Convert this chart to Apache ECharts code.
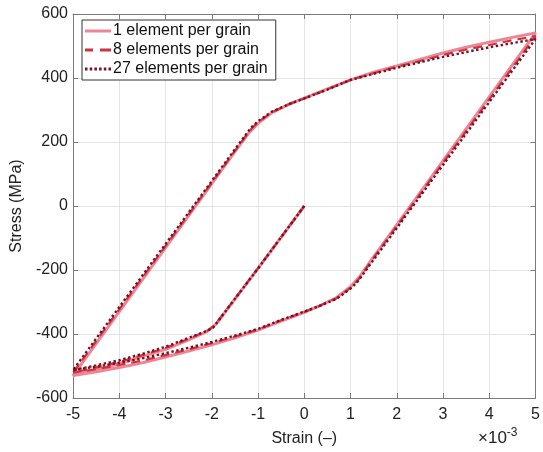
<!DOCTYPE html>
<html>
<head>
<meta charset="utf-8">
<script src="https://cdn.jsdelivr.net/npm/echarts@6/dist/echarts.min.js"></script>
<style>
  html, body { margin: 0; padding: 0; background: #fff; }
  #myChart { width: 543px; height: 452px; }
</style>
</head>
<body>
<div id="myChart"></div>
<script>
// strain in units of 1e-3, stress in MPa
const seriesNames = ['1 element per grain', '8 elements per grain', '27 elements per grain']
const xTicks = [-5, -4, -3, -2, -1, 0, 1, 2, 3, 4, 5]
const yTicks = [-600, -400, -200, 0, 200, 400, 600]

// 1 element per grain: initial compression, reverse loading, then back
const oneElement = [
    [0, 0], [-1, -195], [-1.9, -368], [-2.1, -392], [-2.5, -418], [-3, -448], [-3.5, -470], [-4, -492], [-4.5, -512], [-5, -530],
    [-4, -330], [-3, -130], [-2, 70], [-1.5, 170], [-1.2, 228], [-1, 258], [-0.7, 292], [-0.3, 320], [0, 337], [0.5, 366], [1, 394],
    [1.5, 418], [2, 438], [2.5, 458], [3, 478], [3.5, 496], [4, 512], [4.5, 527], [5, 541],
    [4, 341], [3, 141], [2, -59], [1.5, -159], [1.2, -220], [1, -252], [0.7, -286], [0.3, -314], [0, -332], [-0.5, -360], [-1, -388],
    [-1.5, -412], [-2, -434], [-2.5, -453], [-3, -472], [-3.5, -490], [-4, -505], [-4.5, -518], [-5, -530]
]

const eightElements = [
    [0, 0], [-1, -195], [-1.95, -375], [-2.1, -390], [-2.5, -415], [-3, -444], [-3.5, -466], [-4, -487], [-4.5, -505], [-5, -521],
    [-4, -323], [-3, -125], [-2, 73], [-1.5, 172], [-1.18, 236], [-1, 262], [-0.7, 293], [-0.3, 320], [0, 336], [0.5, 364], [1, 394],
    [1.5, 415], [2, 435], [2.5, 453], [3, 472], [3.5, 489], [4, 503], [4.5, 518], [5, 531],
    [4, 333], [3, 135], [2, -63], [1.5, -162], [1.18, -228], [1, -256], [0.7, -288], [0.3, -314], [0, -331], [-0.5, -357], [-1, -386],
    [-1.5, -408], [-2, -429], [-2.5, -448], [-3, -466], [-3.5, -483], [-4, -497], [-4.5, -510], [-5, -521]
]

const twentySevenElements = [
    [0, 0], [-1, -195], [-1.97, -380], [-2.1, -390], [-2.5, -412], [-3, -440], [-3.5, -462], [-4, -482], [-4.5, -498], [-5, -513],
    [-4, -316], [-3, -119], [-2, 78], [-1.5, 177], [-1.15, 245], [-1, 265], [-0.7, 295], [-0.3, 320], [0, 336], [0.5, 364], [1, 394],
    [1.5, 413], [2, 432], [2.5, 449], [3, 466], [3.5, 481], [4, 496], [4.5, 509], [5, 522],
    [4, 325], [3, 128], [2, -69], [1.5, -168], [1.15, -237], [1, -258], [0.7, -290], [0.3, -314], [0, -330], [-0.5, -356], [-1, -384],
    [-1.5, -405], [-2, -425], [-2.5, -443], [-3, -460], [-3.5, -476], [-4, -490], [-4.5, -502], [-5, -513]
]

const chart = echarts.init(document.getElementById('myChart'))

const axisColor = '#7a7a7a'
const gridColor = '#e4e4e4'
const labelFont = { color: '#222', fontSize: 16, fontFamily: 'Liberation Sans' }
const colors = ['#ef8494', '#cc3341', '#7b0f22']

// legend samples: solid, dashed, dotted (26 x 3)
const legendIcons = [
    'path://M0,0h26v3h-26z',
    'path://M0,0h8v3h-8zM15,0h11v3h-11z',
    'path://M0,0h2.5v3h-2.5zM4.7,0h2.5v3h-2.5zM9.4,0h2.5v3h-2.5zM14.1,0h2.5v3h-2.5zM18.8,0h2.5v3h-2.5zM23.5,0h2.5v3h-2.5z'
]

chart.setOption({
    animation: false,
    backgroundColor: '#fff',
    grid: { left: 73, right: 6, top: 14, bottom: 52 },
    legend: {
        orient: 'vertical',
        left: 82,
        top: 20,
        itemWidth: 26,
        itemHeight: 3,
        itemGap: 3,
        padding: [3, 8, 3, 3],
        borderColor: '#333',
        borderWidth: 1,
        backgroundColor: '#fff',
        lineStyle: { width: 0 },
        itemStyle: { borderWidth: 0 },
        textStyle: { color: '#111', fontSize: 16, fontFamily: 'Liberation Sans', padding: [0, 0, 0, -3], lineHeight: 16 },
        data: seriesNames.map(function (n, i) {
            return { name: n, icon: legendIcons[i], itemStyle: { color: colors[i] } }
        })
    },
    xAxis: [
        {
            type: 'value', min: xTicks[0], max: xTicks[xTicks.length - 1], interval: 1,
            name: 'Strain (\u2013)', nameLocation: 'middle', nameGap: 33,
            nameTextStyle: labelFont,
            axisLine: { onZero: false, lineStyle: { color: axisColor } },
            axisTick: { inside: true, length: 5, lineStyle: { color: axisColor } },
            axisLabel: Object.assign({ margin: 9 }, labelFont),
            splitLine: { show: true, lineStyle: { color: gridColor } }
        },
        {
            type: 'value', position: 'top', min: -5, max: 5, interval: 1,
            axisLine: { onZero: false, lineStyle: { color: axisColor } },
            axisTick: { inside: true, length: 5, lineStyle: { color: axisColor } },
            axisLabel: { show: false },
            splitLine: { show: false }
        }
    ],
    yAxis: [
        {
            type: 'value', min: yTicks[0], max: yTicks[yTicks.length - 1], interval: 200,
            name: 'Stress (MPa)', nameLocation: 'middle', nameGap: 47,
            nameTextStyle: labelFont,
            axisLine: { onZero: false, show: true, lineStyle: { color: axisColor } },
            axisTick: { show: true, inside: true, length: 5, lineStyle: { color: axisColor } },
            axisLabel: Object.assign({ margin: 5 }, labelFont),
            splitLine: { show: true, lineStyle: { color: gridColor } }
        },
        {
            type: 'value', position: 'right', min: -600, max: 600, interval: 200,
            axisLine: { onZero: false, show: true, lineStyle: { color: axisColor } },
            axisTick: { show: true, inside: true, length: 5, lineStyle: { color: axisColor } },
            axisLabel: { show: false },
            splitLine: { show: false }
        }
    ],
    graphic: [
        {
            type: 'text',
            left: 478,
            top: 427,
            style: {
                text: '\u00d710{sup|-3}',
                fill: '#222',
                font: '17px Liberation Sans',
                rich: { sup: { fontSize: 12, fontFamily: 'Liberation Sans', verticalAlign: 'top', padding: [0, 0, 10, 0] } }
            }
        }
    ],
    series: [
        {
            name: seriesNames[0], type: 'line', symbol: 'none', data: oneElement,
            lineStyle: { color: colors[0], width: 3 },
            itemStyle: { color: colors[0] }, z: 2
        },
        {
            name: seriesNames[1], type: 'line', symbol: 'none', data: eightElements,
            lineStyle: { color: colors[1], width: 2.2, type: [9, 6] },
            itemStyle: { color: colors[1] }, z: 3
        },
        {
            name: seriesNames[2], type: 'line', symbol: 'none', data: twentySevenElements,
            lineStyle: { color: colors[2], width: 2.4, type: [2.4, 2.6] },
            itemStyle: { color: colors[2] }, z: 4
        }
    ]
})
</script>
</body>
</html>
